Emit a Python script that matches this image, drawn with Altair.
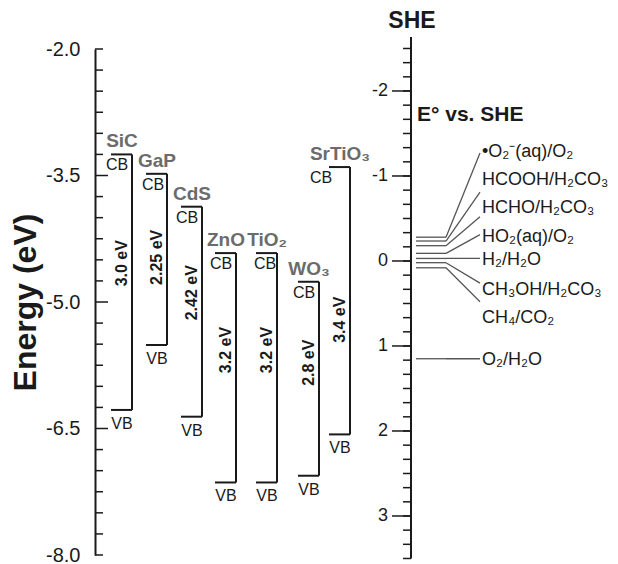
import altair as alt
import pandas as pd

FONT = "Liberation Sans"
INK = "#1a1a1a"

# ---------------- data ----------------
materials = ["SiC", "GaP", "CdS", "ZnO", "TiO₂", "WO₃", "SrTiO₃"]
cb_energy = [-3.25, -3.48, -3.87, -4.42, -4.42, -4.76, -3.40]      # eV
vb_energy = [-6.28, -5.51, -6.36, -7.14, -7.14, -7.06, -6.57]      # eV
gap_text = ["3.0 eV", "2.25 eV", "2.42 eV", "3.2 eV", "3.2 eV", "2.8 eV", "3.4 eV"]
gap_label_energy = [-4.54, -4.47, -4.89, -5.57, -5.57, -5.72, -5.21]

couples = ["•O₂⁻(aq)/O₂", "HCOOH/H₂CO₃", "HCHO/H₂CO₃", "HO₂(aq)/O₂",
           "H₂/H₂O", "CH₃OH/H₂CO₃", "CH₄/CO₂", "O₂/H₂O"]
potentials = [-0.28, -0.235, -0.18, -0.09, -0.03, 0.02, 0.08, 1.15]   # V vs SHE
couple_label_v = [-1.28, -0.95, -0.62, -0.28, -0.01, 0.34, 0.67, 1.16]
connector_end_v = [-1.27, -0.81, -0.52, -0.31, -0.03, 0.26, 0.48, 1.15]

energy_major = [-2.0, -3.5, -5.0, -6.5, -8.0]
energy_minor = [-2.0, -2.25, -2.5, -2.75, -3.0, -3.25, -3.75, -4.0, -4.25, -4.5, -4.75,
                -5.25, -5.5, -5.75, -6.0, -6.25, -6.75, -7.0, -7.25, -7.5, -7.75, -8.0]
she_major = [-2, -1, 0, 1, 2, 3]
she_minor = [k / 6 for k in range(-15, 22)]

# ---------------- layout ----------------
W, H = 515, 506
column_x = [37, 72, 107, 141, 182, 224, 255]          # right edge of each band bracket
cb_label_shift = [-15, -14, -15, -15, -12, -15, -29]
BW = 21

x_scale = alt.Scale(domain=[0, W], nice=False, zero=False)
e_scale = alt.Scale(domain=[-8.0, -2.0], nice=False, zero=False)
she_scale = alt.Scale(domain=[-2.494, 3.459], reverse=True, nice=False, zero=False)

bands = pd.DataFrame({
    "material": materials, "cb": cb_energy, "vb": vb_energy,
    "gap": gap_text, "gap_e": gap_label_energy, "xr": column_x,
    "shift": cb_label_shift,
})
bands["xl"] = bands["xr"] - BW
bands["xc"] = bands["xr"] - 10
bands["xcb"] = bands["xr"] + bands["shift"]


def X(f):
    return alt.X(f"{f}:Q", scale=x_scale, axis=None)


def EY(f):
    return alt.Y(f"{f}:Q", scale=e_scale, axis=None)


def SY(f):
    return alt.Y(f"{f}:Q", scale=she_scale, axis=None)


left_axis = alt.Axis(
    orient="left",
    values=energy_major,
    labelExpr="datum.value < 0 ? '-' + format(-datum.value, '.1f') : format(datum.value, '.1f')",
    ticks=False, grid=False, domain=True, domainColor=INK, domainWidth=2,
    labelFontSize=20, labelFont=FONT, labelColor=INK, labelPadding=15,
    title="Energy (eV)", titleFontSize=32, titleFont=FONT, titleFontWeight="bold",
    titleColor=INK, titleAngle=270, titleX=-70, titleY=253,
    titleAlign="center", titleBaseline="middle",
)

base = alt.Chart(bands)
vert = base.mark_rule(color=INK, strokeWidth=2).encode(
    x=X("xr"), y=alt.Y("cb:Q", scale=e_scale, axis=left_axis), y2="vb:Q")
cb_line = base.mark_rule(color=INK, strokeWidth=2).encode(x=X("xl"), x2="xr:Q", y=EY("cb"))
vb_line = base.mark_rule(color=INK, strokeWidth=2).encode(x=X("xl"), x2="xr:Q", y=EY("vb"))

name_txt = base.mark_text(font=FONT, fontSize=19, fontWeight="bold", color="#6b6b6b",
                          align="center", baseline="middle", dy=-13).encode(
    x=X("xc"), y=EY("cb"), text="material:N")
cb_txt = base.mark_text(font=FONT, fontSize=16, color=INK, align="center",
                        baseline="middle", dy=11).encode(
    x=X("xcb"), y=EY("cb"), text=alt.value("CB"))
vb_txt = base.mark_text(font=FONT, fontSize=16, color=INK, align="center",
                        baseline="middle", dy=14).encode(
    x=X("xc"), y=EY("vb"), text=alt.value("VB"))
gap_txt = base.mark_text(font=FONT, fontSize=16, fontWeight="bold", color=INK,
                         align="center", baseline="middle", angle=270).encode(
    x=X("xc"), y=EY("gap_e"), text="gap:N")

minor_df = pd.DataFrame({"v": energy_minor})
major_df = pd.DataFrame({"v": energy_major[1:-1]})
e_minor = alt.Chart(minor_df).mark_rule(color=INK, strokeWidth=1.5).encode(
    y=EY("v"), x=alt.value(0), x2=alt.value(8))
e_major = alt.Chart(major_df).mark_rule(color=INK, strokeWidth=1.5).encode(
    y=EY("v"), x=alt.value(0), x2=alt.value(13))

# ---------------- SHE side ----------------
AX = 316
she_line = alt.Chart(pd.DataFrame({"top": [-2.635], "bottom": [3.5]})).mark_rule(
    color=INK, strokeWidth=2).encode(x=alt.value(AX), y=SY("top"), y2="bottom:Q")
s_minor = alt.Chart(pd.DataFrame({"v": she_minor})).mark_rule(color=INK, strokeWidth=1.5).encode(
    y=SY("v"), x=alt.value(AX - 8), x2=alt.value(AX))
s_major_df = pd.DataFrame({"v": she_major, "lab": [str(v) for v in she_major]})
s_major = alt.Chart(s_major_df).mark_rule(color=INK, strokeWidth=1.5).encode(
    y=SY("v"), x=alt.value(AX - 19), x2=alt.value(AX))
s_labels = alt.Chart(s_major_df).mark_text(font=FONT, fontSize=18, color=INK, align="right",
                                           baseline="middle").encode(
    y=SY("v"), x=alt.value(AX - 23), text="lab:N")

she_title = alt.Chart(pd.DataFrame({"t": ["SHE"]})).mark_text(
    font=FONT, fontSize=23, fontWeight="bold", color=INK, align="center",
    baseline="middle").encode(x=alt.value(AX + 1), y=alt.value(-28), text="t:N")
e_title = alt.Chart(pd.DataFrame({"t": ["E° vs. SHE"]})).mark_text(
    font=FONT, fontSize=21, fontWeight="bold", color=INK, align="left",
    baseline="middle").encode(x=alt.value(AX + 6), y=alt.value(66), text="t:N")

redox = pd.DataFrame({"couple": couples, "pot": potentials,
                      "lab_v": couple_label_v, "end_v": connector_end_v})
rbase = alt.Chart(redox)
stubs = rbase.mark_rule(color="#555555", strokeWidth=1.3).encode(
    x=alt.value(AX + 5), x2=alt.value(AX + 35), y=SY("pot"))
conn = rbase.mark_rule(color="#555555", strokeWidth=1.3).encode(
    x=alt.value(AX + 35), x2=alt.value(AX + 69), y=SY("pot"), y2="end_v:Q")
r_labels = rbase.mark_text(font=FONT, fontSize=18, color=INK, align="left",
                           baseline="middle").encode(
    x=alt.value(AX + 71), y=SY("lab_v"), text="couple:N")

chart = alt.layer(
    vert, cb_line, vb_line, e_minor, e_major, name_txt, cb_txt, vb_txt, gap_txt,
    she_line, s_minor, s_major, s_labels, she_title, e_title, stubs, conn, r_labels,
).resolve_scale(y="independent").properties(
    width=W, height=H,
    padding={"left": 87, "top": 41, "right": 0, "bottom": 9},
    autosize=alt.AutoSizeParams(type="none"),
    background="white",
).configure_view(stroke=None)

chart.save("out.html", embed_options={"renderer": "svg", "actions": False})
